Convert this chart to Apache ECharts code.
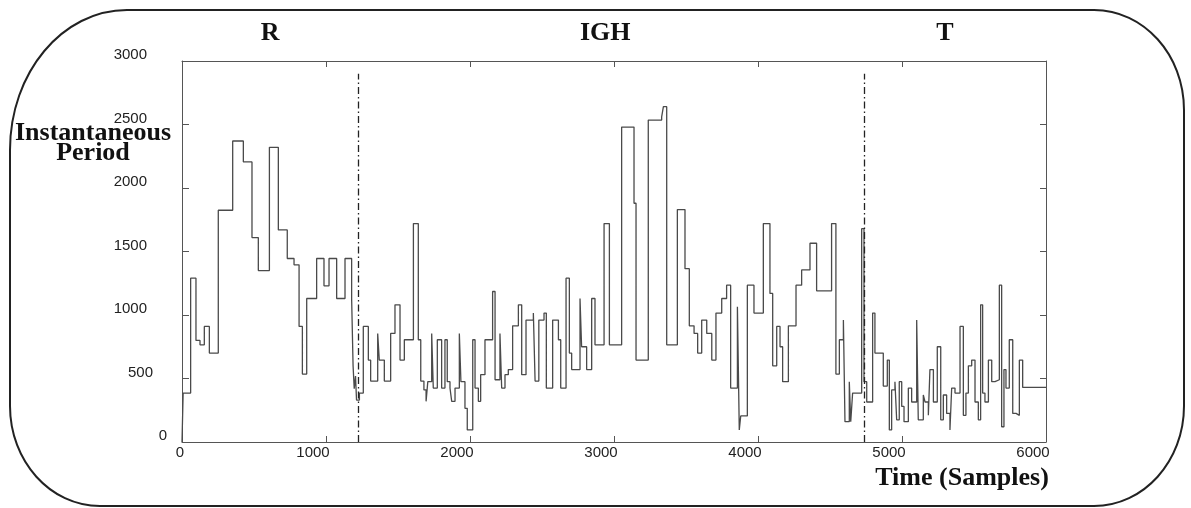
<!DOCTYPE html>
<html>
<head>
<meta charset="utf-8">
<script src="https://cdn.jsdelivr.net/npm/echarts@6/dist/echarts.min.js"></script>
<style>html,body{margin:0;padding:0;background:#fff;}#c{width:1191px;height:508px;}</style>
</head>
<body>
<div id="c"></div>
<script>
// sample index where each new instantaneous-period value starts
const sampleX = [0,8,60,97,125,155,190,252,352,426,486,530,607,669,731,778,813,836,866,935,986,1021,1074,1132,1178,1188,1196,1205,1212,1232,
1259,1294,1310,1359,1370,1405,1449,1479,1514,1544,1607,1641,1658,1680,1695,1707,1734,1745,1773,1803,1826,1842,1861,1873,1896,1926,1937,1965,1981,2019,
2035,2058,2074,2104,2157,2174,2208,2220,2243,2266,2296,2336,2359,2389,2440,2452,2478,2514,2530,2574,2614,2630,2667,2690,2706,2764,2775,2810,2845,2868,
2931,2968,3053,3139,3153,3238,3331,3343,3366,3440,3493,3523,3556,3581,3609,3644,3679,3708,3748,3782,3810,3857,3870,3880,3926,3972,4037,4083,4102,4130,
4153,4171,4211,4264,4303,4361,4407,4511,4541,4565,4593,4604,4634,4644,4657,4720,4736,4755,4796,4812,4870,4898,4912,4928,4951,4963,4981,4998,5014,5044,
5067,5102,5113,5148,5160,5183,5194,5218,5245,5269,5287,5310,5333,5345,5368,5403,5426,5444,5461,5484,5507,5530,5546,5560,5576,5600,5623,5646,5676,5692,
5708,5722,5745,5769,5792,5815,5838,6000];
// instantaneous period value held from that sample on
const period = [0,385,1290,800,765,910,700,1825,2370,2205,1610,1350,2320,1670,1445,1395,910,535,1130,1445,1230,1445,1130,1445,1130,600,420,520,330,385,
910,645,480,855,645,480,855,1080,645,805,1720,805,480,410,320,475,855,425,805,425,805,475,425,320,425,855,475,265,95,805,
425,320,530,805,1185,490,855,425,530,570,915,1080,530,960,1015,480,960,1015,425,960,805,425,1290,700,570,1130,750,570,1130,765,
1720,765,2480,1880,645,2535,2560,2640,765,1830,1365,915,855,700,960,855,645,1015,1130,1235,425,1065,95,205,1235,1015,1720,1170,600,910,
750,475,915,1235,1355,1565,1190,1720,535,805,960,160,475,160,385,1680,475,315,1015,700,440,645,95,410,475,175,475,280,160,425,
315,960,175,370,315,210,570,315,750,175,370,225,95,425,385,910,210,385,600,645,315,175,1080,385,315,645,475,490,1235,120,
570,425,805,225,210,645,430,430];
// segment boundaries (R | IGH | T)
const boundaries = [1225, 4736];
const boundaryTop = 2900;
const segmentNames = ['R', 'IGH', 'T'];
const xTicks = [0, 1000, 2000, 3000, 4000, 5000, 6000];
const yTicks = [0, 500, 1000, 1500, 2000, 2500, 3000];

const points = sampleX.map((x, i) => [x, period[i]]);
const chart = echarts.init(document.getElementById('c'));

const axisColor = '#555';
const serif = '"Liberation Serif", "DejaVu Serif", serif';
const sans = '"Liberation Sans", Arial, sans-serif';

const grid = {left: 182, top: 61, right: 145, bottom: 66};
const plotW = 1191 - grid.left - grid.right;
const xPix = v => grid.left + v / 6000 * plotW;

const segCenters = [
  (0 + boundaries[0]) / 2,
  (boundaries[0] + boundaries[1]) / 2,
  (boundaries[1] + 6000) / 2
];
const titleNudge = [0, -6, -10];

// rounded frame built from lines and quarter-ellipse bezier corners
const K = 0.5523;
const frameStyle = {stroke: '#222', lineWidth: 2, fill: null};
function corner(x1, y1, x2, y2, c1x, c1y, c2x, c2y) {
  return {type: 'bezierCurve', silent: true, z: 0,
    shape: {x1, y1, x2, y2, cpx1: c1x, cpy1: c1y, cpx2: c2x, cpy2: c2y}, style: frameStyle};
}
function seg(x1, y1, x2, y2) {
  return {type: 'line', silent: true, z: 0, shape: {x1, y1, x2, y2}, style: frameStyle};
}
const L = 10, T = 10, R = 1184, B = 506;
const frame = [
  seg(127, T, R - 90, T),
  corner(R - 90, T, R, T + 100, R - 90 + K * 90, T, R, T + 100 - K * 100),
  seg(R, T + 100, R, B - 100),
  corner(R, B - 100, R - 90, B, R, B - 100 + K * 100, R - 90 + K * 90, B),
  seg(R - 90, B, L + 90, B),
  corner(L + 90, B, L, B - 100, L + 90 - K * 90, B, L, B - 100 + K * 100),
  seg(L, B - 100, L, T + 140),
  corner(L, T + 140, 127, T, L, T + 140 - K * 140, 127 - K * 117, T)
];

chart.setOption({
  animation: false,
  backgroundColor: '#fff',
  grid: grid,
  xAxis: [{
    type: 'value', min: 0, max: 6000, interval: 1000,
    axisLine: {show: true, onZero: false, lineStyle: {color: axisColor, width: 1}},
    axisTick: {show: true, inside: true, length: 6, lineStyle: {color: axisColor}},
    splitLine: {show: false},
    axisLabel: {
      margin: 3, color: '#222', fontFamily: sans, fontSize: 15,
      formatter: v => v === 0 ? '{z|0}' : '{b|' + v + '}',
      rich: {z: {fontFamily: sans, fontSize: 15, color: '#222', padding: [0, 4, 0, 0]},
             b: {fontFamily: sans, fontSize: 15, color: '#222', padding: [0, 26, 0, 0]}}
    }
  }, {
    type: 'value', min: 0, max: 6000, interval: 1000, position: 'top',
    axisLine: {show: true, onZero: false, lineStyle: {color: axisColor, width: 1}},
    axisTick: {show: true, inside: true, length: 6, lineStyle: {color: axisColor}},
    axisLabel: {show: false}, splitLine: {show: false}
  }],
  yAxis: [{
    type: 'value', min: 0, max: 3000, interval: 500,
    axisLine: {show: true, onZero: false, lineStyle: {color: axisColor, width: 1}},
    axisTick: {show: true, inside: true, length: 7, lineStyle: {color: axisColor}},
    splitLine: {show: false},
    axisLabel: {
      margin: 15, color: '#222', fontFamily: sans, fontSize: 15,
      formatter: v => v === 0 ? '{z|0}' : (v === 500 ? '{f|500}' : '{b|' + v + '}'),
      rich: {z: {fontFamily: sans, fontSize: 15, color: '#222', padding: [0, 0, 12, 0]},
             f: {fontFamily: sans, fontSize: 15, color: '#222', padding: [0, 14, 12, 0]},
             b: {fontFamily: sans, fontSize: 15, color: '#222', padding: [0, 20, 12, 0]}}
    }
  }, {
    type: 'value', min: 0, max: 3000, interval: 500, position: 'right',
    axisLine: {show: true, onZero: false, lineStyle: {color: axisColor, width: 1}},
    axisTick: {show: true, inside: true, length: 6, lineStyle: {color: axisColor}},
    axisLabel: {show: false}, splitLine: {show: false}
  }],
  series: [{
    type: 'line',
    step: 'end',
    data: points,
    showSymbol: false,
    symbol: 'none',
    lineStyle: {color: '#4a4a4a', width: 1.3},
    markLine: {
      silent: true,
      symbol: 'none',
      label: {show: false},
      lineStyle: {color: '#222', width: 1.3, type: [7, 3, 1.5, 3]},
      data: boundaries.map(b => [{coord: [b, 0]}, {coord: [b, boundaryTop]}])
    }
  }],
  graphic: [
    ...frame,
    ...segmentNames.map((name, i) => ({
      type: 'text', x: xPix(segCenters[i]) + titleNudge[i], y: 33,
      style: {text: name, font: 'bold 26px ' + serif, fill: '#111', align: 'center', verticalAlign: 'middle'}
    })),
    {type: 'text', x: 93, y: 143,
     style: {text: 'Instantaneous\nPeriod', font: 'bold 26px ' + serif, lineHeight: 20, fill: '#111', align: 'center', verticalAlign: 'middle'}},
    {type: 'text', x: 962, y: 478,
     style: {text: 'Time (Samples)', font: 'bold 26px ' + serif, fill: '#111', align: 'center', verticalAlign: 'middle'}}
  ]
});
</script>
</body>
</html>
